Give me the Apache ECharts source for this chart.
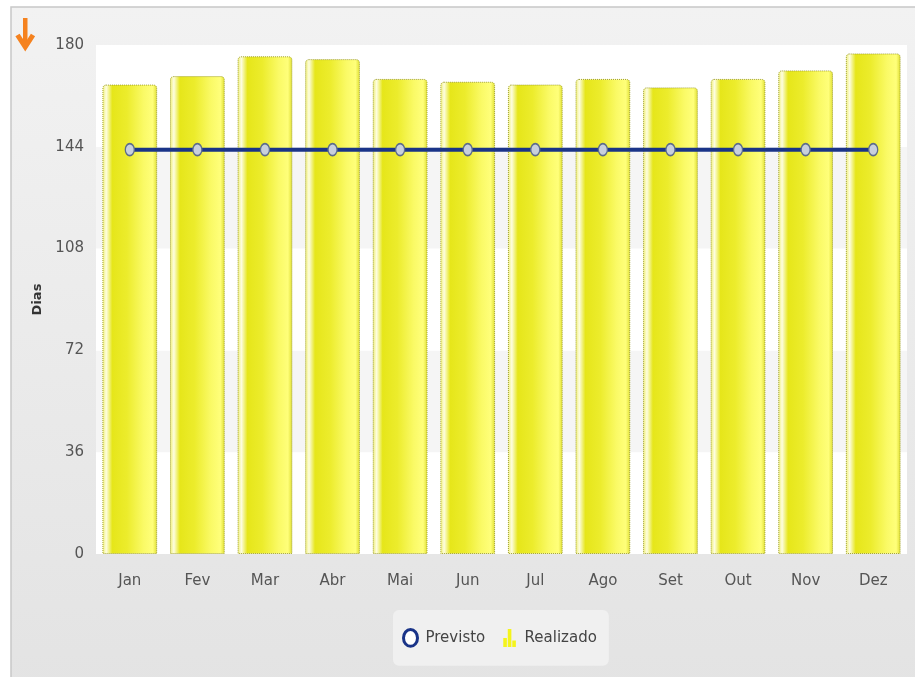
<!DOCTYPE html>
<html>
<head>
<meta charset="utf-8">
<script src="https://cdn.jsdelivr.net/npm/echarts@6/dist/echarts.min.js"></script>
<style>
html,body{margin:0;padding:0;background:#fff;}
#chart{width:915px;height:677px;}
</style>
</head>
<body>
<div id="chart"></div>
<script>
const categories = ['Jan','Fev','Mar','Abr','Mai','Jun','Jul','Ago','Set','Out','Nov','Dez'];
const realizado = [166, 169, 176, 175, 168, 167, 166, 168, 165, 168, 171, 177];
const previsto = [143, 143, 143, 143, 143, 143, 143, 143, 143, 143, 143, 143];
const yTicks = [0, 36, 72, 108, 144, 180];

const chart = echarts.init(document.getElementById('chart'));
const font = '"DejaVu Sans", Verdana, sans-serif';
const barGrad = new echarts.graphic.LinearGradient(0, 0, 1, 0, [
  {offset: 0, color: '#efef70'},
  {offset: 0.07, color: '#fdfde0'},
  {offset: 0.18, color: '#e6e61a'},
  {offset: 0.45, color: '#ecec2c'},
  {offset: 0.75, color: '#fafa66'},
  {offset: 0.92, color: '#ffff7a'},
  {offset: 1, color: '#dede30'}
]);
chart.setOption({
  animation: false,
  textStyle: {fontFamily: font},
  graphic: [
    {type: 'rect', z: -10, shape: {x: 11, y: 7, width: 920, height: 690},
     style: {fill: new echarts.graphic.LinearGradient(0, 0, 0, 1, [
       {offset: 0, color: '#f2f2f2'}, {offset: 1, color: '#e3e3e3'}]),
       stroke: '#c8c8c8', lineWidth: 1.5}},
    {type: 'group', left: 15, top: 18, children: [
      {type: 'rect', shape: {x: 7.5, y: 0, width: 4.5, height: 28}, style: {fill: '#f5821f'}},
      {type: 'polyline', shape: {points: [[2, 17], [9.75, 29], [17.5, 17]]},
       style: {stroke: '#f5821f', lineWidth: 5, fill: null, lineJoin: 'miter'}}
    ]}
  ],
  grid: {left: 96, right: 8, top: 45, bottom: 123, show: true, backgroundColor: '#ffffff', borderWidth: 0},
  legend: {
    top: 610, left: 393,
    backgroundColor: '#f0f0f0', borderRadius: 6,
    padding: [18, 12, 18, 9], itemGap: 18, itemWidth: 14, itemHeight: 18,
    textStyle: {fontSize: 15, color: '#444', fontFamily: font, padding: [0, 0, 0, 3]},
    data: [
      {name: 'Previsto', icon: 'path://M0,6 A5,6 0 1 1 10,6 A5,6 0 1 1 0,6 Z', itemStyle: {color: '#ffffff', borderColor: '#1a3488', borderWidth: 3}},
      {name: 'Realizado', icon: 'path://M0,20 L4,20 L4,10 L0,10 Z M5,20 L9,20 L9,0 L5,0 Z M10,20 L14,20 L14,13 L10,13 Z', itemStyle: {color: '#f4f41c', borderWidth: 0}}
    ]
  },
  xAxis: {
    type: 'category', data: categories,
    axisLine: {show: false}, axisTick: {show: false},
    axisLabel: {color: '#555', fontSize: 15, margin: 20}
  },
  yAxis: {
    type: 'value', min: 0, max: 180, interval: 36,
    name: 'Dias', nameLocation: 'middle', nameGap: 46, nameRotate: 90,
    nameTextStyle: {fontWeight: 'bold', fontSize: 13, color: '#333'},
    axisLine: {show: false}, axisTick: {show: false}, splitLine: {show: false},
    splitArea: {show: true, areaStyle: {color: ['#ffffff', '#f5f5f5']}},
    axisLabel: {color: '#555', fontSize: 15, margin: 12,
      formatter: v => yTicks.includes(v) ? String(v) : ''}
  },
  series: [
    {name: 'Realizado', type: 'bar', data: realizado, barCategoryGap: '19%', z: 2,
     itemStyle: {color: barGrad, borderColor: '#a0a030', borderWidth: 1, borderType: 'dotted', borderRadius: [3, 3, 0, 0]}},
    {name: 'Previsto', type: 'line', data: previsto, z: 5,
     symbol: 'circle', symbolSize: [9, 12],
     lineStyle: {color: '#1a3488', width: 4},
     itemStyle: {color: '#c8d0dc', borderColor: '#5c6c8c', borderWidth: 1.5}}
  ]
});
</script>
</body>
</html>
